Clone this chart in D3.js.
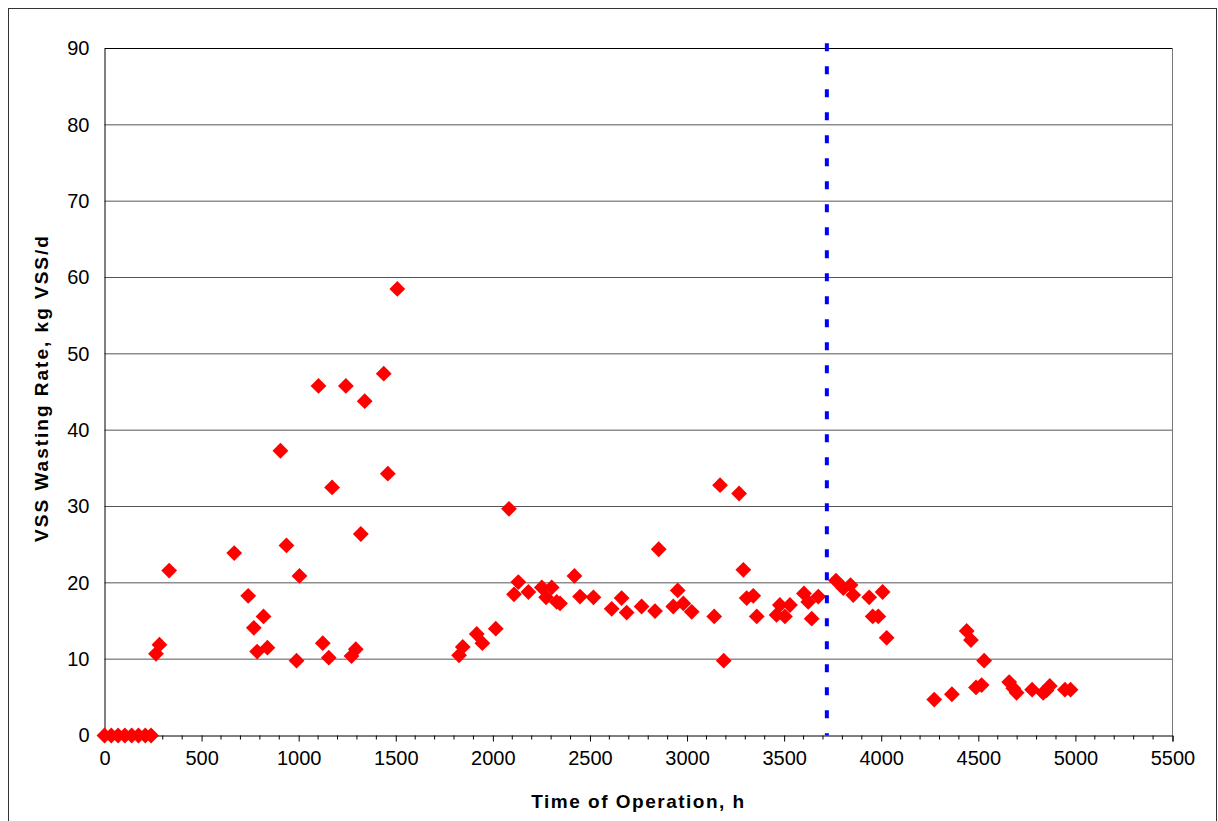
<!DOCTYPE html>
<html>
<head>
<meta charset="utf-8">
<script src="https://cdn.jsdelivr.net/npm/d3@7"></script>
<style>
  body { margin: 0; background: #fff; }
  svg text { font-family: "Liberation Sans", Arial, sans-serif; }
</style>
</head>
<body>
<div id="chart"></div>
<script>
'use strict';

// time of operation (h)
const hours = [
    0, 35, 70, 105, 140, 175, 210, 240,
    265, 283, 333, 668, 740, 769, 786, 819, 839, 906, 937, 989, 1004,
    1102, 1124, 1155, 1172, 1243, 1272, 1294, 1320, 1340, 1438, 1459, 1508,
    1826, 1845, 1917, 1946, 2015, 2083, 2109, 2131, 2183, 2252, 2274, 2303,
    2329, 2346, 2420, 2449, 2518, 2612, 2663, 2689, 2766, 2835, 2854, 2929,
    2952, 2981, 3024, 3140, 3170, 3189, 3268, 3290, 3307, 3341, 3359, 3461,
    3478, 3504, 3530, 3602, 3624, 3642, 3676,
    3767, 3805, 3842, 3856, 3938, 3956, 3985, 4007, 4028, 4273, 4364, 4440,
    4462, 4488, 4517, 4530, 4659, 4680, 4697, 4777, 4834, 4851, 4868, 4946, 4975
];
// VSS wasting rate (kg VSS/d)
const wasting = [
    0, 0, 0, 0, 0, 0, 0, 0,
    10.7, 11.9, 21.6, 23.9, 18.3, 14.1, 11.0, 15.6, 11.5, 37.3, 24.9, 9.8, 20.9,
    45.8, 12.1, 10.2, 32.5, 45.8, 10.4, 11.3, 26.4, 43.8, 47.4, 34.3, 58.5,
    10.5, 11.6, 13.3, 12.1, 14.0, 29.7, 18.5, 20.1, 18.8, 19.4, 18.1, 19.4,
    17.5, 17.3, 20.9, 18.2, 18.1, 16.6, 18.0, 16.1, 16.9, 16.3, 24.4, 16.9,
    19.0, 17.3, 16.2, 15.6, 32.8, 9.8, 31.7, 21.7, 18.0, 18.3, 15.6, 15.8,
    17.1, 15.6, 17.1, 18.6, 17.5, 15.3, 18.2,
    20.3, 19.3, 19.7, 18.4, 18.1, 15.6, 15.6, 18.8, 12.8, 4.7, 5.4, 13.7,
    12.5, 6.3, 6.6, 9.8, 7.0, 6.2, 5.6, 6.0, 5.6, 5.9, 6.5, 6.0, 6.0
];

const xTicks = [0, 500, 1000, 1500, 2000, 2500, 3000, 3500, 4000, 4500, 5000, 5500];
const yTicks = [0, 10, 20, 30, 40, 50, 60, 70, 80, 90];
const dividerHour = [3720];
const dividerTop = 90.7;

const width = 1218;
const height = 821;
const margin = { top: 48.5, right: 45.5, bottom: 85.5, left: 104.5 };

const svg = d3.select("#chart")
    .append("svg")
    .attr("width", width)
    .attr("height", height);

// outer chart border
svg.append("rect")
    .attr("x", 8.5)
    .attr("y", 8.5)
    .attr("width", 1208)
    .attr("height", 830)
    .attr("fill", "none")
    .attr("stroke", "#333")
    .attr("stroke-width", 1);

const xScale = d3.scaleLinear()
    .domain([0, 5500])
    .range([margin.left, width - margin.right]);

const yScale = d3.scaleLinear()
    .domain([0, 90])
    .range([height - margin.bottom, margin.top]);

// horizontal gridlines
svg.append("g")
    .attr("class", "grid")
    .selectAll("line")
    .data(yTicks.slice(1))
    .join("line")
    .attr("x1", xScale(0))
    .attr("x2", xScale(5500))
    .attr("y1", d => yScale(d))
    .attr("y2", d => yScale(d))
    .attr("stroke", d => d === 90 ? "#000" : "#555")
    .attr("stroke-width", 1);

// right border of plot
svg.append("line")
    .attr("x1", xScale(5500))
    .attr("x2", xScale(5500))
    .attr("y1", yScale(90))
    .attr("y2", yScale(0))
    .attr("stroke", "#777");

// x axis: major + minor ticks
const xAxis = d3.axisBottom(xScale)
    .tickValues(xTicks)
    .tickSize(6)
    .tickPadding(9)
    .tickFormat(d3.format("d"));

const gx = svg.append("g")
    .attr("class", "axis x-axis")
    .attr("transform", `translate(0,${yScale(0)})`)
    .call(xAxis);
gx.select(".domain").attr("stroke", "#000");
gx.selectAll(".tick line").attr("stroke", "#000");
gx.selectAll("text").attr("font-size", 20).attr("fill", "#000")
    .attr("font-family", "Liberation Sans, Arial, sans-serif");

const minor = d3.range(0, 5501, 100).filter(d => d % 500 !== 0);
gx.selectAll(".minor")
    .data(minor)
    .join("line")
    .attr("class", "minor")
    .attr("x1", d => xScale(d))
    .attr("x2", d => xScale(d))
    .attr("y1", 0)
    .attr("y2", 4)
    .attr("stroke", "#000");

// y axis
const yAxis = d3.axisLeft(yScale)
    .tickValues(yTicks)
    .tickSize(0)
    .tickPadding(15);

const gy = svg.append("g")
    .attr("class", "axis y-axis")
    .attr("transform", `translate(${xScale(0)},0)`)
    .call(yAxis);
gy.select(".domain").attr("stroke", "#000");
gy.selectAll("text").attr("font-size", 20).attr("fill", "#000")
    .attr("font-family", "Liberation Sans, Arial, sans-serif");

// axis titles
svg.append("text")
    .attr("x", (xScale(0) + xScale(5500)) / 2)
    .attr("y", 808)
    .attr("text-anchor", "middle")
    .attr("font-size", 19)
    .attr("font-weight", "bold")
    .attr("letter-spacing", "1.5px")
    .text("Time of Operation, h");

svg.append("text")
    .attr("transform", `translate(48,388) rotate(-90)`)
    .attr("text-anchor", "middle")
    .attr("font-size", 19)
    .attr("font-weight", "bold")
    .attr("letter-spacing", "2px")
    .text("VSS Wasting Rate, kg VSS/d");

// data points (red diamonds)
const points = hours.map((h, i) => ({ h: h, v: wasting[i] }));
const diamond = d3.symbol().type(d3.symbolSquare).size(125);

svg.append("g")
    .attr("class", "points")
    .selectAll("path")
    .data(points)
    .join("path")
    .attr("d", diamond)
    .attr("transform", d => `translate(${xScale(d.h)},${yScale(d.v)}) rotate(45)`)
    .attr("fill", "#ff0000");

// blue dashed divider
svg.append("g")
    .selectAll("line")
    .data(dividerHour)
    .join("line")
    .attr("x1", d => xScale(d))
    .attr("x2", d => xScale(d))
    .attr("y1", yScale(dividerTop))
    .attr("y2", yScale(0))
    .attr("stroke", "#0000ff")
    .attr("stroke-width", 4)
    .attr("stroke-dasharray", "8,15");
</script>
</body>
</html>
